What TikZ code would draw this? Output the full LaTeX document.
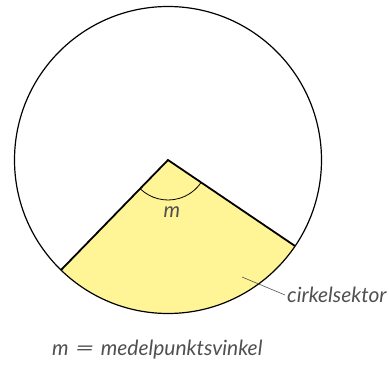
\documentclass[tikz,border=0pt]{standalone}
\usepackage{fontspec}
\setmainfont{Lato}
\usetikzlibrary{calc}
\definecolor{sectoryellow}{RGB}{255,245,150}
\definecolor{labelgray}{RGB}{80,80,80}
\begin{document}
\begin{tikzpicture}[x=1pt,y=1pt,
  lbl/.style={text=labelgray,font=\itshape\fontsize{21}{25}\selectfont,inner sep=0pt},
  radius line/.style={line width=1.8pt,line join=miter},
  rim/.style={line width=1.2pt}]
\useasboundingbox (0,0) rectangle (389,365);
\coordinate (O) at (168,205);
\coordinate (A) at ($(O)+(225.8:153.5)$);
\coordinate (B) at ($(O)+(325.9:153.5)$);
\fill[sectoryellow] (O) -- (A) arc[start angle=225.8,end angle=325.9,radius=153.5] -- cycle;
\draw[rim] (O) circle[radius=153.5];
\draw[radius line] (A) -- (O) -- (B);
\draw[line width=0.8pt] ($(O)+(225.8:40)$) arc[start angle=225.8,end angle=325.9,radius=40];
\node[lbl,anchor=base] (m) at (172,147) {m};
\node[lbl,anchor=base west] (sek) at (287,63) {cirkelsektor};
\coordinate (P) at (242,88);
\draw[labelgray,line width=0.6pt] (P) -- ($(sek.base west)+(-2,7)$);
\node[lbl,anchor=base west] (def) at (52,10) {m\hspace{0.3em}\scalebox{1.6}[1]{=}\hspace{0.3em}medelpunktsvinkel};
\end{tikzpicture}
\end{document}
